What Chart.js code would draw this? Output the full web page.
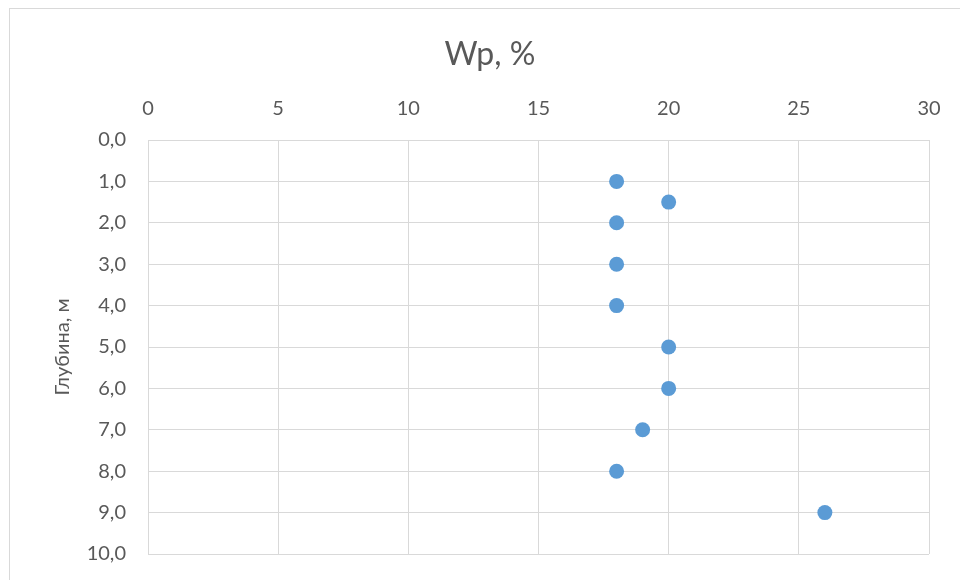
<!DOCTYPE html>
<html lang="ru">
<head>
<meta charset="utf-8">
<title>Wp, %</title>
<script src="https://cdn.jsdelivr.net/npm/chart.js@4.4.1/dist/chart.umd.min.js"></script>
<style>
    html, body { margin: 0; padding: 0; background: #fff; }
    #wrap { position: relative; width: 960px; height: 580px; overflow: hidden; }
    #frame {
        position: absolute; left: 9px; top: 8px; width: 1000px; height: 620px;
        border-left: 1px solid #d9d9d9; border-top: 1px solid #d9d9d9;
        pointer-events: none;
    }
    #chart { position: absolute; left: 0; top: 0; }
</style>
</head>
<body>
<div id="wrap">
    <div id="frame"></div>
    <canvas id="chart" width="960" height="580"></canvas>
</div>
<script>
// влажность на границе раскатывания по глубине
const wpValues = [18, 20, 18, 18, 18, 20, 20, 19, 18, 26];
const depthValues = [1, 1.5, 2, 3, 4, 5, 6, 7, 8, 9];

const xTicks = [0, 5, 10, 15, 20, 25, 30];
const yTicks = [0, 1, 2, 3, 4, 5, 6, 7, 8, 9, 10];

const FONT = "Lato, 'Open Sans', 'Noto Sans', sans-serif";
const GRID = '#d9d9d9';
const TEXT = '#595959';

const points = wpValues.map((v, i) => ({ x: v, y: depthValues[i] }));

new Chart(document.getElementById('chart'), {
    type: 'scatter',
    data: {
        datasets: [{
            data: points,
            backgroundColor: '#5b9bd5',
            borderColor: '#5b9bd5',
            borderWidth: 0,
            pointRadius: 7.5,
            pointHoverRadius: 7.5
        }]
    },
    options: {
        responsive: false,
        animation: false,
        layout: { padding: { top: 0, right: 31, bottom: 26, left: 51 } },
        plugins: {
            legend: { display: false },
            tooltip: { enabled: false },
            title: {
                display: true,
                text: 'Wp, %',
                color: TEXT,
                font: { family: FONT, size: 32, weight: 'normal' },
                padding: { top: 35, bottom: 0 }
            }
        },
        scales: {
            x: {
                type: 'linear',
                position: 'top',
                min: xTicks[0],
                max: xTicks[xTicks.length - 1],
                afterBuildTicks: s => { s.ticks = xTicks.map(v => ({ value: v })); },
                afterFit: s => { s.height = 66.6; },
                grid: { color: GRID, drawTicks: false },
                border: { display: true, color: GRID },
                ticks: {
                    color: TEXT,
                    padding: 19,
                    font: { family: FONT, size: 20 },
                    maxRotation: 0
                }
            },
            y: {
                type: 'linear',
                reverse: true,
                min: yTicks[0],
                max: yTicks[yTicks.length - 1],
                afterBuildTicks: s => { s.ticks = yTicks.map(v => ({ value: v })); },
                afterFit: s => {
                    s.width = 97;
                    // tick padding should not push the plot area up from the bottom edge
                    s.paddingTop = 12;
                    s.paddingBottom = 12;
                },
                grid: { color: GRID, drawTicks: false },
                border: { display: true, color: GRID },
                ticks: {
                    color: TEXT,
                    padding: 22,
                    font: { family: FONT, size: 20 },
                    callback: v => v.toFixed(1).replace('.', ',')
                },
                title: {
                    display: true,
                    text: 'Глубина, м',
                    color: TEXT,
                    font: { family: FONT, size: 20 },
                    padding: { top: 0, bottom: 0 }
                }
            }
        }
    }
});
</script>
</body>
</html>
